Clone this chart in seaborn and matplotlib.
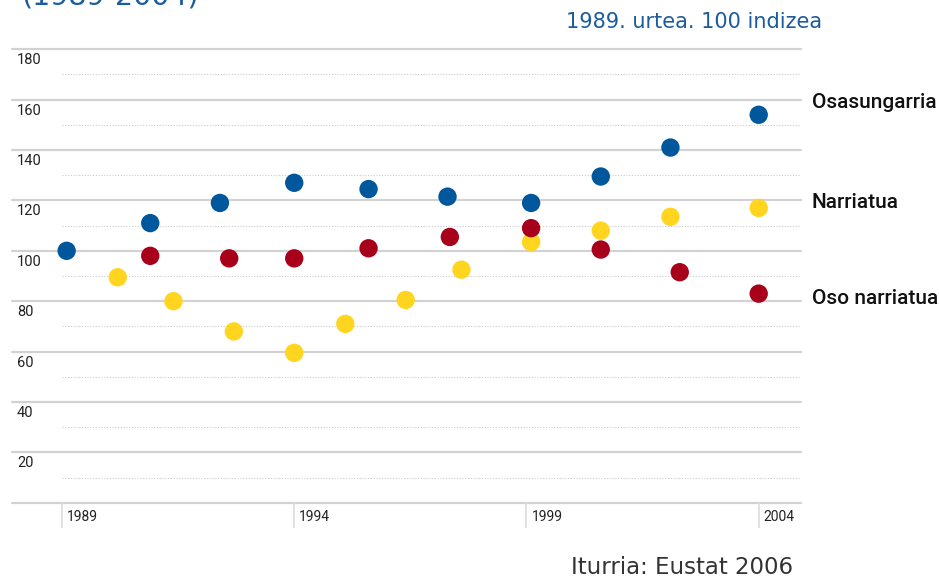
import matplotlib
matplotlib.use("Agg")
import matplotlib.pyplot as plt
from matplotlib import font_manager
import seaborn as sns
import pandas as pd

# ---- data ----
series_names = ["Osasungarria", "Narriatua", "Oso narriatua"]

osasun_years = [1989.1, 1990.9, 1992.4, 1994.0, 1995.6, 1997.3, 1999.1, 2000.6, 2002.1, 2004.0]
osasun_vals = [100, 111, 119, 127, 124.5, 121.5, 119, 129.5, 141, 154]

narriatu_years = [1990.2, 1991.4, 1992.7, 1994.0, 1995.1, 1996.4, 1997.6, 1999.1, 2000.6, 2002.1, 2004.0]
narriatu_vals = [89.5, 80, 68, 59.5, 71, 80.5, 92.5, 103.5, 108, 113.5, 117]

oso_years = [1990.9, 1992.6, 1994.0, 1995.6, 1997.35, 1999.1, 2000.6, 2002.3, 2004.0]
oso_vals = [98, 97, 97, 101, 105.5, 109, 100.5, 91.5, 83]

x_ticks = [1989, 1994, 1999, 2004]
y_ticks = [20, 40, 60, 80, 100, 120, 140, 160, 180]

colors = {"Osasungarria": "#00579b", "Narriatua": "#ffd51f", "Oso narriatua": "#a8001a"}

df = pd.concat([
    pd.DataFrame({"urtea": osasun_years, "indizea": osasun_vals, "saila": series_names[0]}),
    pd.DataFrame({"urtea": narriatu_years, "indizea": narriatu_vals, "saila": series_names[1]}),
    pd.DataFrame({"urtea": oso_years, "indizea": oso_vals, "saila": series_names[2]}),
], ignore_index=True)

sns.set_theme(style="white")
available = {f.name for f in font_manager.fontManager.ttflist}
narrow = "Liberation Sans Narrow" if "Liberation Sans Narrow" in available else "Roboto"
plt.rcParams["font.family"] = ["Roboto", "DejaVu Sans"]

W, H = 939, 579
fig = plt.figure(figsize=(W / 100, H / 100), dpi=100)

# axes geometry in pixels
px_left, px_right = 12, 801
px_y0, px_y180 = 502.7, 49.3
x1989, x2004 = 62, 758.7
ppy = (x2004 - x1989) / 15.0
xmin = 1989 - (x1989 - px_left) / ppy
xmax = 2004 + (px_right - x2004) / ppy
ax = fig.add_axes([px_left / W, (H - px_y0) / H, (px_right - px_left) / W, (px_y0 - px_y180) / H])
ax.set_xlim(xmin, xmax)
ax.set_ylim(0, 180)
upp = 180 / (px_y0 - px_y180)  # data units per pixel (y)

for s in ax.spines.values():
    s.set_visible(False)
ax.set_xticks([])
ax.set_yticks([])

# grid
for v in [0] + y_ticks:
    ax.axhline(v, color="#d2d2d2", lw=1.6, zorder=0, clip_on=False)
for v in range(10, 180, 20):
    ax.hlines(v, 1989, xmax, color="#cccccc", lw=0.8, linestyles=(0, (1, 1.5)), zorder=0)
for yr in x_ticks:
    ax.vlines(yr, -25 * upp, 0, color="#dcdcdc", lw=1.2, clip_on=False, zorder=0)
    ax.text(yr + 5 / ppy, -14 * upp, str(yr), fontsize=10, color="#222222",
            ha="left", va="center", family=[narrow, "DejaVu Sans"])
for v in y_ticks:
    ax.text(xmin + 5 / ppy, v - 11 * upp, str(v), fontsize=10.5, color="#222222",
            ha="left", va="center", family=[narrow, "DejaVu Sans"])

sns.scatterplot(data=df, x="urtea", y="indizea", hue="saila", palette=colors,
                s=175, linewidth=0, legend=False, ax=ax, zorder=3)
ax.set_xlabel("")
ax.set_ylabel("")

# right-hand labels
label_pos = {"Osasungarria": 103, "Narriatua": 203, "Oso narriatua": 298}
for name in series_names:
    ax.text(2004 + (812 - x2004) / ppy, (px_y0 - label_pos[name]) * upp, name,
            fontsize=15, fontweight="medium", color="#111111", ha="left", va="center",
            clip_on=False, family=[narrow, "DejaVu Sans"])

# texts around
fig.text(22 / W, 1 - 5 / H, "(1989-2004)", fontsize=20.5, color="#1b5c9c",
         ha="left", va="baseline", family=["DejaVu Sans"])
fig.text(822 / W, 1 - 22 / H, "1989. urtea. 100 indizea", fontsize=15, color="#1b5c9c",
         ha="right", va="center", family=["DejaVu Sans"])
fig.text(793 / W, 1 - 568 / H, "Iturria: Eustat 2006", fontsize=16.5, color="#333333",
         ha="right", va="center", family=["DejaVu Sans"])

fig.savefig("out.png", dpi=100)
